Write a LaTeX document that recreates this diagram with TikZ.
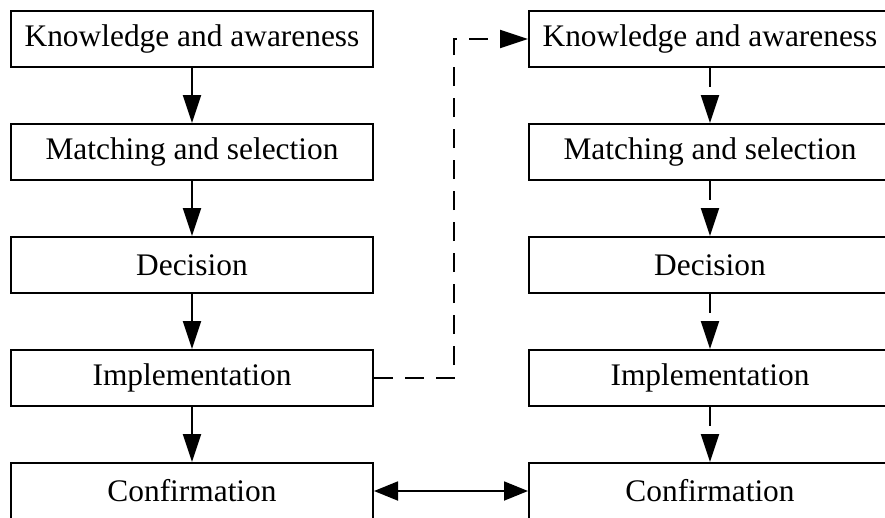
\documentclass[tikz,border=0pt]{standalone}
\usepackage{fontspec}
\setmainfont{Liberation Serif}
\usetikzlibrary{arrows.meta}
\begin{document}
\begin{tikzpicture}[x=1pt,y=-1pt,
  stage/.style={draw,line width=2pt,minimum width=362pt,minimum height=56pt,
    inner sep=0pt,font=\fontsize{31.4}{36}\selectfont},
  flow/.style={line width=2pt,-{Triangle[length=28pt,width=18pt]}},
  dflow/.style={flow,dash pattern=on 19pt off 12pt},
  twoway/.style={line width=1.8pt,{Triangle[length=24pt,width=19pt]}-{Triangle[length=24pt,width=19pt]}}]
\useasboundingbox (0,0) rectangle (885,517);
\fill[white] (0,0) rectangle (885,517);
% left column
\node[stage] (k1) at (192,39)  {Knowledge and awareness};
\node[stage] (m1) at (192,152) {Matching and selection};
\node[stage] (d1) at (192,265) {Decision};
\node[stage] (i1) at (192,378) {Implementation};
\node[stage] (c1) at (192,491) {Confirmation};
% right column
\node[stage] (k2) at (710,39)  {Knowledge and awareness};
\node[stage] (m2) at (710,152) {Matching and selection};
\node[stage] (d2) at (710,265) {Decision};
\node[stage] (i2) at (710,378) {Implementation};
\node[stage] (c2) at (710,491) {Confirmation};
% solid arrows down the left column
\draw[flow] (k1) -- (m1);
\draw[flow] (m1) -- (d1);
\draw[flow] (d1) -- (i1);
\draw[flow] (i1) -- (c1);
% dashed arrows down the right column
\draw[dflow] (k2) -- (m2);
\draw[dflow] (m2) -- (d2);
\draw[dflow] (d2) -- (i2);
\draw[dflow] (i2) -- (c2);
% dashed link from implementation to the second cycle
\coordinate (bend) at (454,39);
\draw[dflow] (i1.east) -| (bend) -- (k2.west);
% two-way link between confirmations
\draw[twoway] (c1.east) -- (c2.west);
\end{tikzpicture}
\end{document}
